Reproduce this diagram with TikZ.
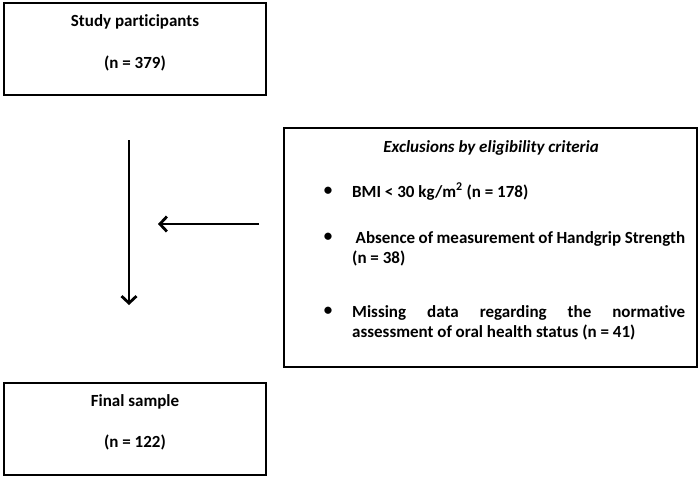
\documentclass[tikz,border=0pt]{standalone}
\usepackage{fontspec}
\setmainfont{Carlito}[Ligatures=CommonOff]
\usetikzlibrary{arrows.meta}
\tikzset{
  box/.style={draw, line width=1.8pt, minimum width=262pt, minimum height=92pt, inner sep=0pt},
  boxtext/.style={font=\bfseries\fontsize{17}{20}\selectfont, inner sep=0pt},
  item/.style={font=\bfseries\fontsize{17}{20}\selectfont, inner sep=0pt, text width=333pt, align=justify, anchor=base west,
    execute at begin node={\hyphenpenalty=10000\tolerance=10000\relax}},
  flow/.style={line width=2.8pt, -{Straight Barb[length=7pt,width=15pt,line width=2.8pt]}}
}
\begin{document}
\begin{tikzpicture}[x=1pt, y=-1pt]
\useasboundingbox (0,0) rectangle (700,477);
% boxes
\node[box] (part) at (135,49) {};
\node[boxtext] at (135,22) {Study participants};
\node[boxtext] at (135,63) {(n = 379)};
\node[box, minimum width=413pt, minimum height=239pt] (excl) at (490.5,247.5) {};
\node[boxtext, font=\bfseries\itshape\fontsize{17}{20}\selectfont] at (491,148) {Exclusions by eligibility criteria};
\node[box] (final) at (135,429) {};
\node[boxtext] at (135,402) {Final sample};
\node[boxtext] at (135,442) {(n = 122)};
% criteria
\foreach \y in {197,243,317} \node[boxtext] at (328,\y-6) {\textbullet};
\node[item] (bmi) at (352,197) {BMI < 30 kg/m\textsuperscript{2} (n = 178)};
\node[item] (hgs) at (352,243) {\ Absence of measurement of Handgrip Strength\\(n = 38)};
\node[item] (ohs) at (352,317) {Missing data regarding the normative assessment of oral health status (n = 41)};
% arrows
\coordinate (down start) at (129,140);
\coordinate (down end) at (129,305);
\coordinate (left start) at (259,224);
\coordinate (left end) at (158,224);
\draw[flow] (down start) -- (down end);
\draw[flow] (left start) -- (left end);
\end{tikzpicture}
\end{document}
